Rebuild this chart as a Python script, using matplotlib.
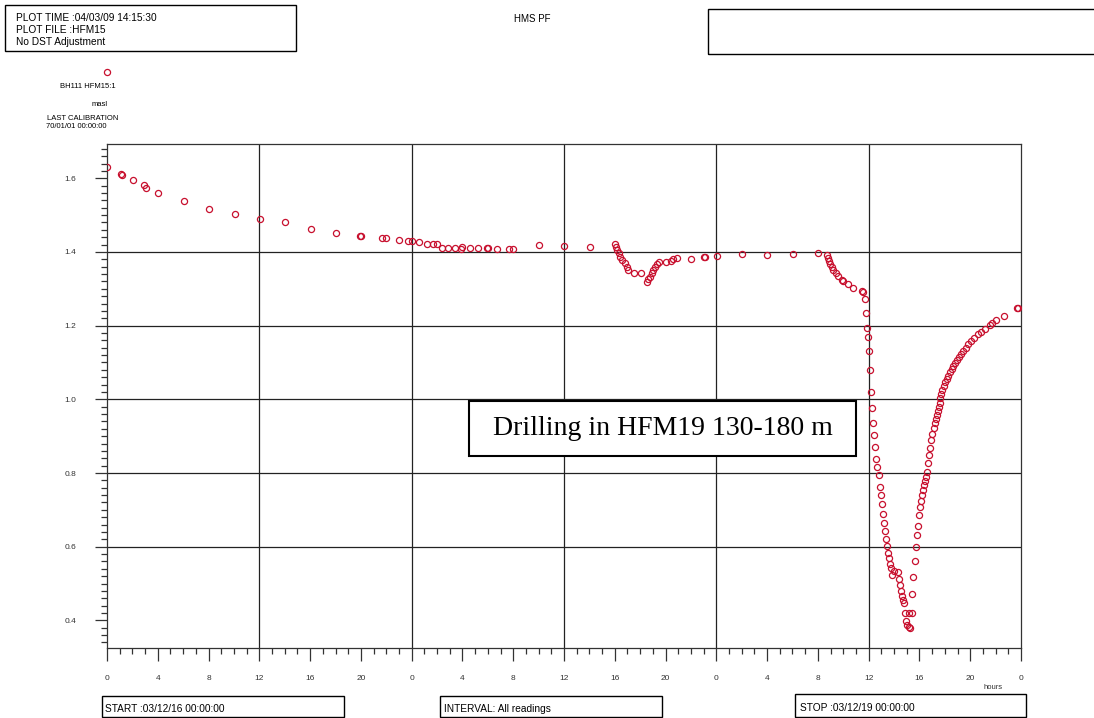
import matplotlib.pyplot as plt
import matplotlib.patches as patches
import numpy as np

# readings (hours since start, masl)
hours = [0.03, 1.1, 1.16, 2.02, 2.94, 3.05, 4.04, 6.07, 8.01, 10.06, 12.05, 14.05,
         16.05, 18.04, 19.9, 20.0, 21.7, 22.0, 23.0, 23.7, 24.05, 24.6, 25.2, 25.7,
         26.0, 26.4, 26.9, 27.4, 27.9, 28.0, 28.6, 29.2, 29.96, 30.0, 30.7, 31.7,
         32.0, 34.04, 36.03, 38.02,
         40.02, 40.1, 40.2, 40.3, 40.44, 40.6, 40.78, 40.94, 41.07, 41.5, 42.04,
         42.5, 42.65, 42.78, 42.9, 43.04, 43.2, 43.33, 43.5, 44.04, 44.45, 44.6,
         44.88, 46.03, 47.0, 47.09, 48.05, 50.02, 52.02, 54.02, 56.01,
         56.7, 56.77, 56.85, 56.96, 57.09, 57.2, 57.4, 57.6, 57.9, 58.0, 58.4,
         58.8, 59.45, 59.55, 59.7, 59.8, 59.87, 59.95, 60.03, 60.1, 60.2, 60.26,
         60.37, 60.42, 60.52, 60.6, 60.68, 60.79, 60.87, 60.95, 61.03, 61.1,
         61.19, 61.27, 61.34, 61.42, 61.5, 61.6, 61.68, 61.78, 61.86, 62.02,
         62.31, 62.42, 62.5, 62.57, 62.65, 62.73, 62.8, 62.86, 63.15, 63.38,
         62.94, 63.05, 63.2, 63.28,
         63.41, 63.52, 63.63, 63.73, 63.78, 63.89, 63.97, 64.05, 64.13, 64.2,
         64.28, 64.36, 64.44, 64.52, 64.62, 64.7, 64.78, 64.86, 64.94, 65.0,
         65.13, 65.2, 65.28, 65.38, 65.46, 65.54, 65.62, 65.64, 65.7, 65.8, 65.9,
         66.0, 66.15, 66.27, 66.4, 66.55, 66.67, 66.8, 66.96, 67.12, 67.28,
         67.46, 67.65, 67.85, 68.06, 68.32, 68.59, 68.85, 69.17, 69.56, 69.7,
         70.03, 70.66, 71.7, 71.75]
level = [1.631, 1.612, 1.610, 1.594, 1.582, 1.573, 1.561, 1.538, 1.517, 1.504, 1.490, 1.481,
         1.461, 1.452, 1.443, 1.443, 1.438, 1.438, 1.433, 1.429, 1.429, 1.426, 1.421, 1.421,
         1.421, 1.412, 1.412, 1.411, 1.407, 1.413, 1.411, 1.410, 1.410, 1.411, 1.407, 1.408,
         1.408, 1.418, 1.416, 1.414,
         1.421, 1.413, 1.405, 1.396, 1.387, 1.378, 1.369, 1.360, 1.351, 1.342, 1.342,
         1.319, 1.326, 1.333, 1.342, 1.351, 1.360, 1.368, 1.372, 1.372, 1.376, 1.380,
         1.384, 1.381, 1.385, 1.387, 1.389, 1.394, 1.393, 1.394, 1.397,
         1.392, 1.383, 1.376, 1.367, 1.360, 1.351, 1.343, 1.335, 1.324, 1.320, 1.312,
         1.302, 1.294, 1.291, 1.273, 1.234, 1.193, 1.169, 1.131, 1.079, 1.021, 0.976,
         0.936, 0.903, 0.870, 0.839, 0.817, 0.794, 0.763, 0.739, 0.715, 0.690,
         0.665, 0.643, 0.621, 0.601, 0.584, 0.568, 0.554, 0.541, 0.523, 0.535,
         0.532, 0.512, 0.496, 0.479, 0.466, 0.456, 0.447, 0.420, 0.420, 0.420,
         0.398, 0.387, 0.383, 0.380,
         0.472, 0.519, 0.560, 0.600, 0.631, 0.657, 0.686, 0.707, 0.724, 0.741,
         0.754, 0.767, 0.779, 0.789, 0.803, 0.826, 0.848, 0.868, 0.890, 0.906,
         0.922, 0.935, 0.947, 0.958, 0.969, 0.980, 0.991, 1.003, 1.015, 1.026,
         1.036, 1.046, 1.055, 1.064, 1.073, 1.082, 1.091, 1.098, 1.107, 1.115,
         1.123, 1.131, 1.140, 1.150, 1.158, 1.167, 1.177, 1.184, 1.191, 1.202,
         1.207, 1.214, 1.227, 1.247, 1.249]

x_ticks = list(range(0, 73, 4))
x_ticklabels = [str(h % 24) for h in x_ticks]
y_ticks = [0.4, 0.6, 0.8, 1.0, 1.2, 1.4, 1.6]
v_grid = [12, 24, 36, 48, 60]
h_grid = [0.6, 0.8, 1.0, 1.2, 1.4]

plt.rcParams['font.family'] = ['Liberation Sans', 'DejaVu Sans']
red = '#c8102e'
W, H = 1094, 718

fig = plt.figure(figsize=(W / 100, H / 100), dpi=100)
ax = fig.add_axes([107 / W, 1 - 648 / H, 914 / W, 504 / H])

for g in v_grid:
    ax.axvline(g, color='#222222', lw=0.9, zorder=1)
for g in h_grid:
    ax.axhline(g, color='#222222', lw=0.9, zorder=1)

ax.plot(hours, level, 'o', mfc='none', mec=red, ms=4.4, mew=0.9, zorder=3)

ax.set_xlim(0, 72)
ax.set_ylim(0.325, 1.693)
ax.set_xticks(x_ticks)
ax.set_xticklabels(x_ticklabels)
ax.set_xticks(np.arange(0, 73, 1), minor=True)
ax.set_yticks(y_ticks)
ax.set_yticklabels(['%.1f' % v for v in y_ticks])
ax.set_yticks(np.arange(0.34, 1.70, 0.02), minor=True)
ax.tick_params(which='major', length=9, width=0.9, labelsize=6, color='#333333',
               labelcolor='#333333')
ax.tick_params(which='minor', length=4, width=0.9, color='#333333')
ax.tick_params(axis='x', which='major', pad=10.5)
ax.tick_params(axis='y', which='major', pad=13)
for s in ax.spines.values():
    s.set_linewidth(0.9)
    s.set_color('#333333')

# annotation box
ax.add_patch(patches.Rectangle((0.396, 0.381), 0.4235, 0.109, transform=ax.transAxes,
                               facecolor='white', edgecolor='black', lw=1.5, zorder=4))
ax.text(0.608, 0.436, 'Drilling in HFM19 130-180 m', transform=ax.transAxes,
        ha='center', va='center', fontsize=20, family='Liberation Serif', zorder=5)

ax.text(0.969, -0.0774, 'hours', transform=ax.transAxes, ha='center', va='center',
        fontsize=5.5, color='#333333')


def box(x0, y0, x1, y1):
    fig.add_artist(patches.Rectangle((x0 / W, 1 - y1 / H), (x1 - x0) / W, (y1 - y0) / H,
                                     transform=fig.transFigure, fill=False,
                                     edgecolor='black', lw=1.0))


def label(x, y, s, size=7.3, ha='left'):
    fig.text(x / W, 1 - y / H, s, fontsize=size, ha=ha, va='center')


# header
box(5, 5, 296, 51)
label(16, 18, 'PLOT TIME :04/03/09 14:15:30')
label(16, 30, 'PLOT FILE :HFM15')
label(16, 42, 'No DST Adjustment')
label(514, 19, 'HMS PF', size=7)
box(708, 9, 1100, 54)

# series legend block
fig.add_artist(plt.Line2D([107 / W], [1 - 72 / H], marker='o', mfc='none', mec=red,
                          ms=4.4, mew=0.9, transform=fig.transFigure))
label(88, 86, 'BH111 HFM15:1', size=5.5, ha='center')
label(100, 105, 'masl', size=5.5, ha='center')
label(83, 118, 'LAST CALIBRATION', size=5.5, ha='center')
label(76, 127, '70/01/01 00:00:00', size=5.5, ha='center')

# footer
box(102, 696, 344, 717)
label(105, 709, 'START :03/12/16 00:00:00')
box(440, 696, 662, 717)
label(444, 709, 'INTERVAL: All readings')
box(795, 694, 1026, 717)
label(800, 708, 'STOP :03/12/19 00:00:00')

plt.savefig('out.png', dpi=100)
